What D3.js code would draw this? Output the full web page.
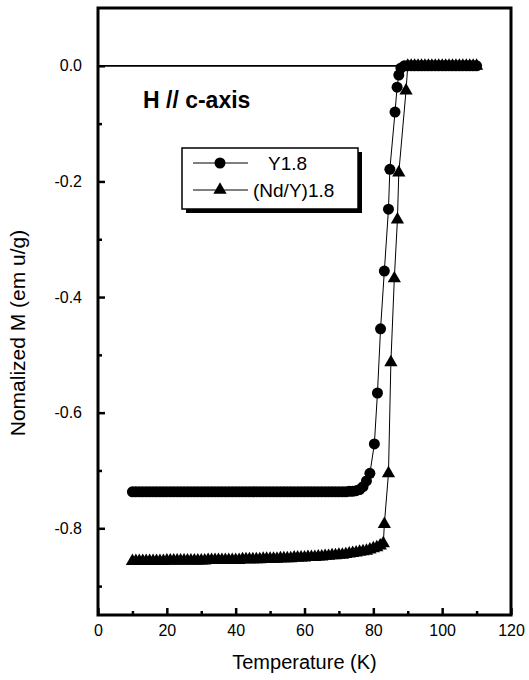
<!DOCTYPE html>
<html>
<head>
<meta charset="utf-8">
<script src="https://cdn.jsdelivr.net/npm/d3@7"></script>
<style>
  body { margin: 0; background: #fff; }
  svg text { font-family: "Liberation Sans", Arial, sans-serif; fill: #000; }
</style>
</head>
<body>
<svg id="chart"></svg>
<script>
// Y1.8 (circles)
const y18Temp = [10,11,12,13,14,15,16,17,18,19,20,21,22,23,24,25,26,27,28,29,30,31,32,33,34,35,36,37,38,39,40,41,42,43,44,45,46,47,48,49,50,51,52,53,54,55,56,57,58,59,60,61,62,63,64,65,66,67,68,69,70,71,72,73,74,75,76,77,78,79,
  80.3,81.2,82.1,83.2,84.4,84.8,86.3,86.9,87.4,
  88,89,90,91,92,93,94,95,96,97,98,99,100,101,102,103,104,105,106,107,108,109,110];
const y18M = [-0.737,-0.737,-0.737,-0.737,-0.737,-0.737,-0.737,-0.737,-0.737,-0.737,-0.737,-0.737,-0.737,-0.737,-0.737,-0.737,-0.737,-0.737,-0.737,-0.737,-0.737,-0.737,-0.737,-0.737,-0.737,-0.737,-0.737,-0.737,-0.737,-0.737,-0.737,-0.737,-0.737,-0.737,-0.737,-0.737,-0.737,-0.737,-0.737,-0.737,-0.737,-0.737,-0.737,-0.737,-0.737,-0.737,-0.737,-0.737,-0.737,-0.737,-0.737,-0.737,-0.737,-0.737,-0.737,-0.737,-0.737,-0.737,-0.737,-0.737,-0.737,-0.737,-0.737,-0.736,-0.736,-0.735,-0.733,-0.728,-0.718,-0.705,
  -0.654,-0.566,-0.455,-0.355,-0.248,-0.179,-0.080,-0.037,-0.016,
  -0.004,0,0,0,0,0,0,0,0,0,0,0,0,0,0,0,0,0,0,0,0,0,0];

// (Nd/Y)1.8 (triangles)
const ndTemp = [10,11,12,13,14,15,16,17,18,19,20,21,22,23,24,25,26,27,28,29,30,31,32,33,34,35,36,37,38,39,40,41,42,43,44,45,46,47,48,49,50,51,52,53,54,55,56,57,58,59,60,61,62,63,64,65,66,67,68,69,70,71,72,73,74,75,76,77,78,79,80,81,82,82.9,
  83.2,84.4,85.1,86.1,87.0,87.4,89.5,
  90,91,92,93,94,95,96,97,98,99,100,101,102,103,104,105,106,107,108,109,110];
const ndM = [-0.857,-0.857,-0.857,-0.857,-0.857,-0.857,-0.857,-0.857,-0.857,-0.857,-0.856,-0.856,-0.856,-0.856,-0.856,-0.856,-0.856,-0.856,-0.856,-0.856,-0.856,-0.856,-0.855,-0.855,-0.855,-0.855,-0.855,-0.855,-0.855,-0.855,-0.855,-0.855,-0.854,-0.854,-0.854,-0.854,-0.854,-0.854,-0.853,-0.853,-0.853,-0.853,-0.853,-0.852,-0.852,-0.852,-0.852,-0.851,-0.851,-0.851,-0.851,-0.850,-0.850,-0.850,-0.849,-0.849,-0.848,-0.848,-0.847,-0.847,-0.846,-0.846,-0.845,-0.844,-0.843,-0.842,-0.841,-0.840,-0.839,-0.837,-0.835,-0.833,-0.830,-0.826,
  -0.793,-0.705,-0.513,-0.368,-0.266,-0.185,-0.043,
  0,0,0,0,0,0,0,0,0,0,0,0,0,0,0,0,0,0,0,0,0];

const xMajor = [0,20,40,60,80,100,120];
const xMinor = [10,30,50,70,90,110];
const yMajor = [0,-0.2,-0.4,-0.6,-0.8];
const yMinor = [-0.1,-0.3,-0.5,-0.7,-0.9];
const seriesNames = ['Y1.8', '(Nd/Y)1.8'];

const width = 529, height = 680;
const plotL = 98, plotR = 511, plotT = 8, plotB = 615;

const svg = d3.select('#chart').attr('width', width).attr('height', height);

const x = d3.scaleLinear().domain([0, 120]).range([plotL, plotR]);
const y = d3.scaleLinear().domain([-0.95, 0.1]).range([plotB, plotT]);

// zero reference line
svg.append('line')
  .attr('x1', x(0)).attr('x2', x(100))
  .attr('y1', y(0)).attr('y2', y(0))
  .attr('stroke', '#000').attr('stroke-width', 1.8);

// axes, ticks pointing inward
const xAxis = svg.append('g').attr('transform', `translate(0,${plotB})`)
  .call(d3.axisBottom(x).tickValues(xMajor).tickSize(-7).tickPadding(10).tickFormat(d3.format('d')));
svg.append('g').attr('transform', `translate(0,${plotB})`)
  .call(d3.axisBottom(x).tickValues(xMinor).tickSize(-4).tickFormat(''));
const yAxis = svg.append('g').attr('transform', `translate(${plotL},0)`)
  .call(d3.axisLeft(y).tickValues(yMajor).tickSize(-7).tickPadding(16).tickFormat(d3.format('.1f')));
svg.append('g').attr('transform', `translate(${plotL},0)`)
  .call(d3.axisLeft(y).tickValues(yMinor).tickSize(-4).tickFormat(''));

svg.selectAll('.domain').remove();
svg.selectAll('.tick line').attr('stroke', '#000').attr('stroke-width', 2.5);
xAxis.selectAll('text').style('font-size', '16px').text(d => d);
yAxis.selectAll('text').style('font-size', '16px').text(d => d3.format('.1f')(d).replace('−', '-'));

// frame
svg.append('rect')
  .attr('x', plotL).attr('y', plotT)
  .attr('width', plotR - plotL).attr('height', plotB - plotT)
  .attr('fill', 'none').attr('stroke', '#000').attr('stroke-width', 3);

// series
const circleData = y18Temp.map((t, i) => [t, y18M[i]]);
const triData = ndTemp.map((t, i) => [t, ndM[i]]);
const line = d3.line().x(d => x(d[0])).y(d => y(d[1]));

svg.append('path').datum(circleData).attr('d', line)
  .attr('fill', 'none').attr('stroke', '#000').attr('stroke-width', 1);
svg.append('path').datum(triData).attr('d', line)
  .attr('fill', 'none').attr('stroke', '#000').attr('stroke-width', 1);

const tri = d3.symbol().type(d3.symbolTriangle).size(76);
svg.selectAll('.tri').data(triData).enter()
  .append('path')
    .attr('transform', d => `translate(${x(d[0])},${y(d[1])})`)
    .attr('d', tri)
    .attr('fill', '#000');
svg.selectAll('.dot').data(circleData).enter()
  .append('circle')
    .attr('cx', d => x(d[0]))
    .attr('cy', d => y(d[1]))
    .attr('r', 5.5)
    .attr('fill', '#000');

// annotation
svg.append('text')
  .attr('x', 143).attr('y', 108)
  .style('font-size', '23px').style('font-weight', 'bold')
  .text('H // c-axis');

// legend with shadow
const lg = svg.append('g');
lg.append('rect').attr('x', 186).attr('y', 152).attr('width', 176).attr('height', 61).attr('fill', '#000');
lg.append('rect').attr('x', 182).attr('y', 148).attr('width', 176).attr('height', 61)
  .attr('fill', '#fff').attr('stroke', '#000').attr('stroke-width', 1.5);
const rows = [163, 190];
rows.forEach((ry, i) => {
  lg.append('line').attr('x1', 193).attr('x2', 248).attr('y1', ry).attr('y2', ry)
    .attr('stroke', '#000').attr('stroke-width', 1);
  if (i === 0) {
    lg.append('circle').attr('cx', 220).attr('cy', ry).attr('r', 5.5).attr('fill', '#000');
  } else {
    lg.append('path').attr('transform', `translate(220,${ry})`).attr('d', tri).attr('fill', '#000');
  }
  lg.append('text')
    .attr('x', i === 0 ? 268 : 253).attr('y', ry + 7)
    .style('font-size', '19px')
    .text(seriesNames[i]);
});

// axis titles
svg.append('text')
  .attr('x', (plotL + plotR) / 2).attr('y', 669)
  .attr('text-anchor', 'middle')
  .style('font-size', '20px')
  .text('Temperature (K)');
svg.append('text')
  .attr('transform', `translate(25,${333}) rotate(-90)`)
  .attr('text-anchor', 'middle')
  .style('font-size', '21px')
  .text('Nomalized M (em u/g)');
</script>
</body>
</html>
